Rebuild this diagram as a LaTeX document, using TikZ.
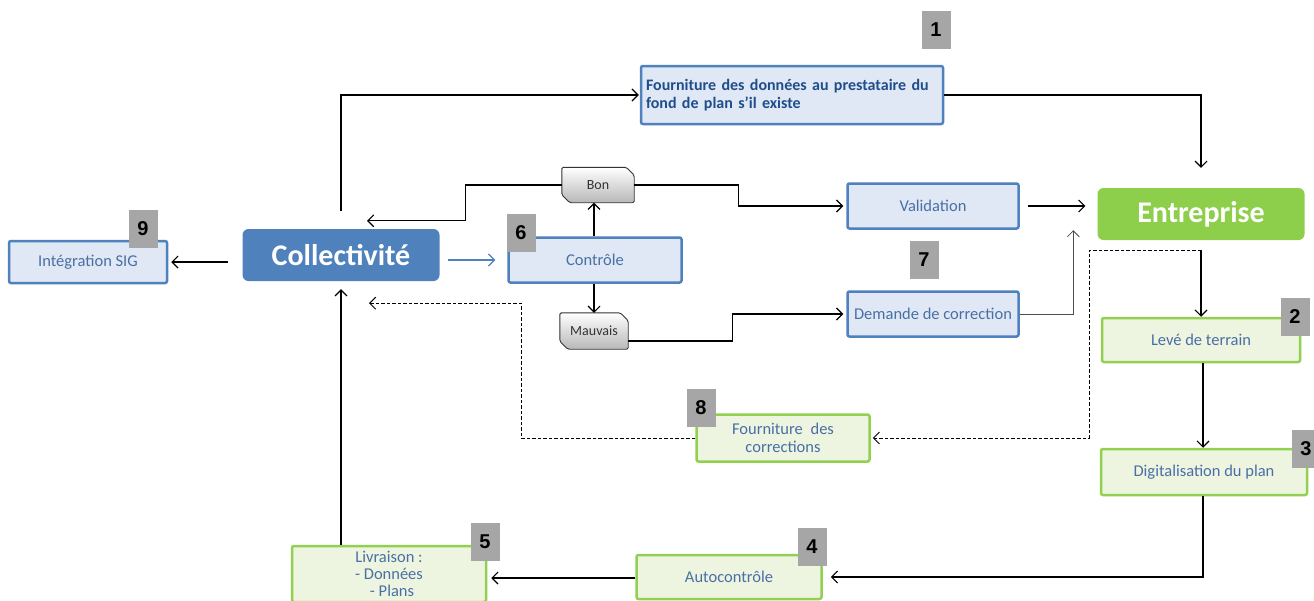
\documentclass[tikz,border=0pt]{standalone}
\usepackage{fontspec}
\setmainfont{Carlito}
\newfontfamily\numfont{Liberation Sans}
\usetikzlibrary{arrows.meta,shapes.misc}
\definecolor{bblue}{HTML}{4F81BD}
\definecolor{bfill}{HTML}{DFE8F4}
\definecolor{gline}{HTML}{92D050}
\definecolor{gfill}{HTML}{EDF5E1}
\definecolor{gbig}{HTML}{8DCF4A}
\definecolor{btext}{HTML}{4A6FA5}
\definecolor{navy}{HTML}{1F4E8C}
\definecolor{numgray}{HTML}{A6A6A6}
\tikzset{
  bbox/.style={draw=bblue, line width=2.5pt, fill=bfill, rounded corners=2pt, text=btext, font=\fontsize{16.5}{18}\selectfont, align=center, inner sep=2pt},
  gbox/.style={draw=gline, line width=2.5pt, fill=gfill, rounded corners=2pt, text=btext, font=\fontsize{16.5}{18}\selectfont, align=center, inner sep=2pt},
  bigbox/.style={rounded corners=6pt, text=white, font=\fontsize{30}{34}\selectfont\bfseries, inner sep=2pt},
  numbox/.style={fill=numgray, minimum width=29pt, minimum height=38pt, inner sep=0pt, font=\numfont\fontsize{20}{22}\selectfont\bfseries},
  choice/.style={rectangle, font=\fontsize{14}{16}\selectfont, text=black!80, inner sep=1pt},
  choiceshape/.style={draw=black!80, line width=0.9pt, top color=white, bottom color=black!28, rounded corners=1.5pt},
  arr/.style={-{Straight Barb[length=6pt,width=12pt]}, line width=1.1pt, black},
  darr/.style={arr, dashed, line width=1pt, dash pattern=on 3.5pt off 2pt},
}
\newcommand{\snipshape}[1]{%
  \shade[choiceshape] (#1.north west) -- ([xshift=-8pt]#1.north east) -- ([yshift=-8pt]#1.north east)
    -- (#1.south east) -- ([xshift=8pt]#1.south west) -- ([yshift=8pt]#1.south west) -- cycle;}
\begin{document}
\begin{tikzpicture}[x=1pt,y=-1pt]
\useasboundingbox[fill=white] (0,0) rectangle (1314,600);

% main nodes
\node[bbox, minimum width=302pt, minimum height=58pt, text width=292pt, align=left, text=navy, font=\fontsize{16}{17.5}\selectfont\bfseries] (fourn) at (792,95) {Fourniture des données au prestataire du\\fond de plan s’il existe};
\node[bigbox, fill=gbig, minimum width=207pt, minimum height=52pt] (entr) at (1201,214) {Entreprise};
\node[bigbox, fill=bblue, minimum width=197pt, minimum height=52pt] (coll) at (341,255) {Collectivité};
\node[bbox, minimum width=158pt, minimum height=42pt] (sig) at (88,262) {Intégration SIG};
\node[bbox, minimum width=173pt, minimum height=45pt] (ctrl) at (595,260) {Contrôle};
\node[choice, minimum width=72pt, minimum height=35pt] (bon) at (598,185) {};
\snipshape{bon}
\node[choice] at (bon) {Bon};
\node[choice, minimum width=68pt, minimum height=36pt] (mauv) at (594,331) {};
\snipshape{mauv}
\node[choice] at (mauv) {Mauvais};
\node[bbox, minimum width=171pt, minimum height=45pt] (valid) at (933,206) {Validation};
\node[bbox, minimum width=171pt, minimum height=45pt] (dem) at (933,314) {Demande de correction};
\node[gbox, minimum width=198pt, minimum height=44pt] (leve) at (1201,340) {Levé de terrain};
\node[gbox, minimum width=206pt, minimum height=46pt] (digit) at (1204,472) {Digitalisation du plan};
\node[gbox, minimum width=185pt, minimum height=44pt] (autoc) at (729,577) {Autocontrôle};
\node[gbox, minimum width=194pt, minimum height=56pt, font=\fontsize{16.5}{17}\selectfont] (livr) at (389,574) {Livraison :\\- Données\\\hspace*{6pt}- Plans};
\node[gbox, minimum width=173pt, minimum height=47pt, font=\fontsize{16.5}{18}\selectfont] (corr) at (783,438) {Fourniture\hspace{4pt} des\\corrections};

% number boxes
\node[numbox] (n1) at (936,30) {1};
\node[numbox] (n2) at (1295,317) {2};
\node[numbox] (n3) at (1306,449) {3};
\node[numbox] (n4) at (812,547) {4};
\node[numbox] (n5) at (485,542) {5};
\node[numbox] (n6) at (521,233) {6};
\node[numbox] (n7) at (924,260) {7};
\node[numbox] (n8) at (701,408) {8};
\node[numbox] (n9) at (143,229) {9};

% connectors
\draw[arr] ([yshift=18pt]coll.north) |- ([xshift=-1pt]fourn.west);
\draw[arr] (fourn.east) -| ([yshift=20pt]entr.north);
\draw[arr] ([xshift=-14pt]coll.west |- sig.east) -- ([xshift=3pt]sig.east);
\draw[arr, bblue, line width=1.2pt] ([xshift=8pt]coll.east |- ctrl.west) -- ([xshift=-12pt]ctrl.west);
\draw[arr] (ctrl.north -| 594,0) -- (bon.south -| 594,0);
\draw[arr] (ctrl.south -| 594,0) -- (mauv.north -| 594,0);
\draw[arr] (bon.west) -- ++(-96,0) |- ([xshift=26pt,yshift=8pt]coll.north);
\draw[arr] (bon.east) -- ++(104,0) |- ([xshift=-3pt]valid.west);
\draw[arr] ([xshift=8pt]valid.east) -- ([xshift=-12pt]valid.east -| entr.west);
\draw[arr] ([yshift=-10pt]mauv.east) -- ++(104,0) |- ([xshift=-3pt]dem.west);
\draw[arr, line width=0.8pt, black!70] (dem.east) -| ([xshift=-24pt,yshift=10pt]entr.south west);
\draw[darr] ([yshift=-10pt]entr.south) -- ++(-112,0) |- ([xshift=2pt]corr.east);
\draw[arr] ([yshift=-10pt]entr.south) -- (leve.north -| entr.south);
\draw[arr] (leve.south -| 1203,0) -- (digit.north -| 1203,0);
\draw[arr] (digit.south -| 1203,0) |- ([xshift=8pt]autoc.east);
\draw[arr] (autoc.west |- 0,578) -- ([xshift=4pt]livr.east |- 0,578);
\draw[arr] (livr.north -| coll.south) -- ([yshift=-8pt]coll.south);
\draw[darr] (corr.west) -- ++(-174,0) |- ([xshift=28pt,yshift=-22pt]coll.south);
\end{tikzpicture}
\end{document}
